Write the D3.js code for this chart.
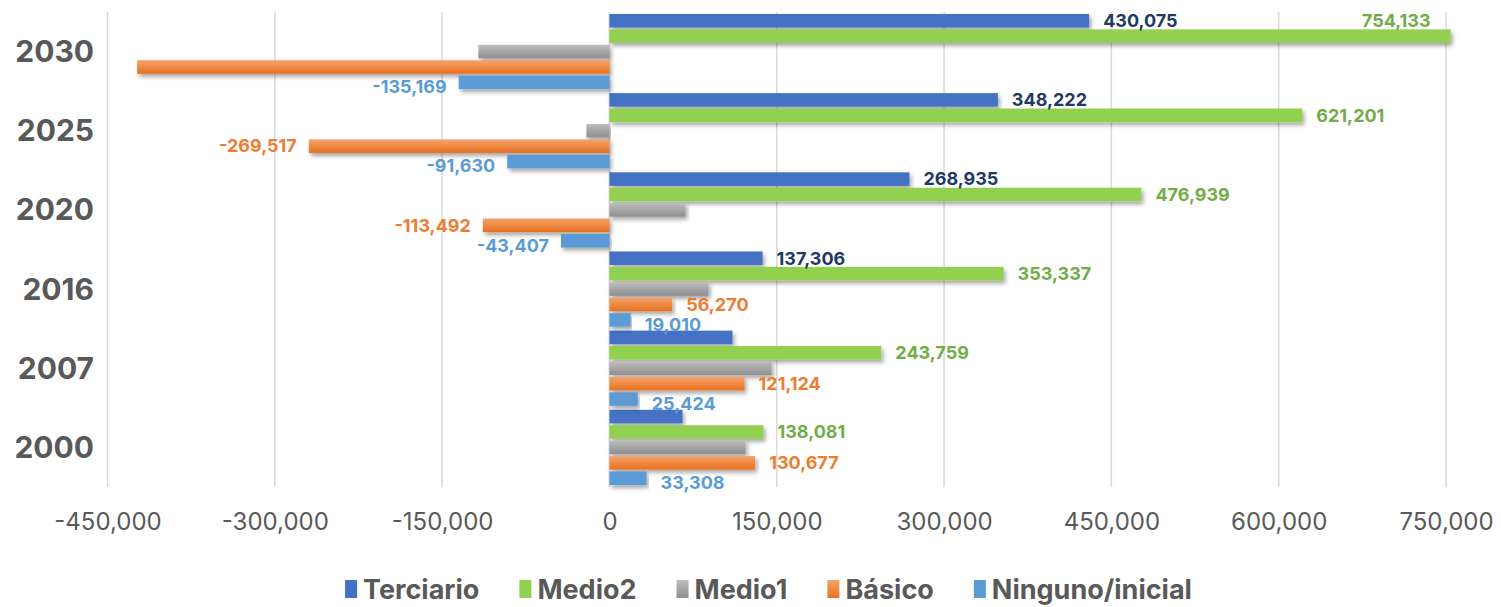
<!DOCTYPE html>
<html>
<head>
<meta charset="utf-8">
<script src="https://cdn.jsdelivr.net/npm/d3@7"></script>
<style>
  body { margin: 0; background: #fff; }
  svg { font-family: Inter, "Open Sans", sans-serif; }
</style>
</head>
<body>
<div id="chart"></div>
<script>
// years, bottom to top as in the original workbook
const years = ["2000", "2007", "2016", "2020", "2025", "2030"];
const seriesNames = ["Terciario", "Medio2", "Medio1", "Básico", "Ninguno/inicial"];

// values per series, same order as years
const terciario = [65500, 110300, 137306, 268935, 348222, 430075];
const medio2 = [138081, 243759, 353337, 476939, 621201, 754133];
const medio1 = [122000, 145300, 88800, 68200, -20600, -117500];
const basico = [130677, 121124, 56270, -113492, -269517, -423400];
const ninguno = [33308, 25424, 19010, -43407, -91630, -135169];

// which values carry a data label in the original
const terciarioLabels = [false, false, true, true, true, true];
const medio2Labels = [true, true, true, true, true, true];
const medio1Labels = [false, false, false, false, false, false];
const basicoLabels = [true, true, true, true, true, false];
const ningunoLabels = [true, true, true, true, true, true];

const xTicks = [-450000, -300000, -150000, 0, 150000, 300000, 450000, 600000, 750000];

const width = 1501;
const height = 607;
const marginTop = 12;
const marginBottom = 120;
const plotLeft = 107.5;
const plotRight = 1446;

const labelColors = ["#203864", "#70AD47", "#7F7F7F", "#ED7D31", "#5B9BD5"];

const series = [terciario, medio2, medio1, basico, ninguno];
const labelFlags = [terciarioLabels, medio2Labels, medio1Labels, basicoLabels, ningunoLabels];

const rows = [];
years.forEach((yr, i) => {
  seriesNames.forEach((s, j) => {
    rows.push({ year: yr, series: s, si: j, value: series[j][i], label: labelFlags[j][i] });
  });
});

const x = d3.scaleLinear()
    .domain([-450000, 750000])
    .range([plotLeft, plotRight]);

const y0 = d3.scaleBand()
    .domain(years.slice().reverse())
    .range([marginTop, height - marginBottom])
    .paddingInner(0.05)
    .paddingOuter(0.025);

const y1 = d3.scaleBand()
    .domain(seriesNames)
    .range([0, y0.bandwidth()])
    .paddingInner(0.12);

// plain hyphen for negatives, like the original
const fmt = d3.formatLocale({ decimal: ".", thousands: ",", grouping: [3], currency: ["", ""], minus: "-" }).format(",");

const svg = d3.create("svg")
    .attr("width", width)
    .attr("height", height);
// attach now so text lengths can be measured
document.getElementById("chart").append(svg.node());

const defs = svg.append("defs");
const shadow = defs.append("filter")
    .attr("id", "shadow")
    .attr("x", "-5%").attr("y", "-30%")
    .attr("width", "110%").attr("height", "180%");
shadow.append("feDropShadow")
    .attr("dx", 2).attr("dy", 3)
    .attr("stdDeviation", 2)
    .attr("flood-color", "#000")
    .attr("flood-opacity", 0.35);

// light-to-dark gradients on the gray and orange series
function vGrad(id, top, bottom) {
  const g = defs.append("linearGradient")
      .attr("id", id)
      .attr("x1", 0).attr("y1", 0).attr("x2", 0).attr("y2", 1);
  g.append("stop").attr("offset", "0%").attr("stop-color", top);
  g.append("stop").attr("offset", "100%").attr("stop-color", bottom);
}
vGrad("gGray", "#BDBDBD", "#8E8E8E");
vGrad("gOrange", "#F5A36B", "#E8711F");
const fills = ["#4472C4", "#92D050", "url(#gGray)", "url(#gOrange)", "#5B9BD5"];

// gridlines
svg.append("g")
  .selectAll("line")
  .data(xTicks)
  .join("line")
    .attr("x1", d => x(d)).attr("x2", d => x(d))
    .attr("y1", marginTop).attr("y2", height - marginBottom)
    .attr("stroke", "#D9D9D9")
    .attr("stroke-width", 1.5);

// x axis labels
svg.append("g")
    .attr("transform", `translate(0,${height - marginBottom})`)
    .call(d3.axisBottom(x).tickValues(xTicks).tickFormat(fmt).tickSize(0).tickPadding(26))
    .call(g => g.select(".domain").remove())
    .call(g => g.selectAll("text")
        .attr("fill", "#595959")
        .attr("font-size", 24)
        .attr("font-family", "Inter, sans-serif"));

// year labels
svg.append("g")
  .selectAll("text")
  .data(years)
  .join("text")
    .attr("x", 94)
    .attr("y", d => y0(d) + y0.bandwidth() / 2)
    .attr("dy", "0.35em")
    .attr("text-anchor", "end")
    .attr("font-size", 30)
    .attr("font-weight", 700)
    .attr("fill", "#595959")
    .text(d => d);

// bars
svg.append("g")
  .selectAll("rect")
  .data(rows)
  .join("rect")
    .attr("x", d => x(Math.min(0, d.value)))
    .attr("y", d => y0(d.year) + y1(d.series))
    .attr("width", d => Math.abs(x(d.value) - x(0)))
    .attr("height", y1.bandwidth())
    .attr("fill", d => fills[d.si])
    .attr("filter", "url(#shadow)");

// data labels
svg.append("g")
  .selectAll("text")
  .data(rows.filter(d => d.label))
  .join("text")
    .attr("font-size", 18)
    .attr("font-weight", 700)
    .attr("fill", d => labelColors[d.si])
    .text(d => fmt(d.value))
    .each(function(d) {
      const t = d3.select(this);
      const cy = y0(d.year) + y1(d.series) + y1.bandwidth() / 2;
      const w = this.getComputedTextLength();
      if (d.value >= 0 && x(d.value) + 14 + w > plotRight) {
        // no room at the end: sit above the bar, inside the plot
        t.attr("x", x(d.value) - 20).attr("y", cy - y1.step()).attr("text-anchor", "end");
      } else if (d.value >= 0) {
        t.attr("x", x(d.value) + 14).attr("y", cy).attr("text-anchor", "start");
      } else {
        t.attr("x", x(d.value) - 12).attr("y", cy).attr("text-anchor", "end");
      }
      t.attr("dy", d.si === 4 ? "0.6em" : "0.35em");
    });

// legend
const legend = svg.append("g");
const legendGap = 40;
let lx = 0;
seriesNames.forEach((s, i) => {
  const item = legend.append("g").attr("transform", `translate(${lx},0)`);
  item.append("rect")
      .attr("x", 0).attr("y", -9)
      .attr("width", 12).attr("height", 18)
      .attr("fill", fills[i]);
  const txt = item.append("text")
      .attr("x", 18)
      .attr("dy", "0.36em")
      .attr("font-size", 27)
      .attr("font-weight", 700)
      .attr("fill", "#595959")
      .text(s);
  lx += 18 + txt.node().getComputedTextLength() + legendGap;
});
lx -= legendGap;
legend.attr("transform", `translate(${(width - lx) / 2 + 18},589)`);
</script>
</body>
</html>
